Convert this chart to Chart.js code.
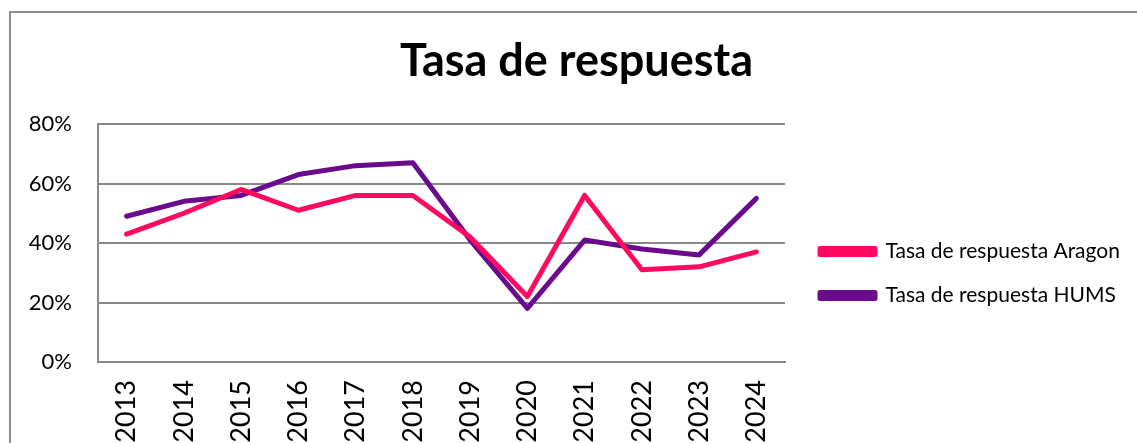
<!DOCTYPE html>
<html lang="es">
<head>
  <meta charset="UTF-8" />
  <title>Tasa de respuesta</title>
  <script src="https://cdn.jsdelivr.net/npm/chart.js"></script>
  <style>
    * { margin: 0; padding: 0; box-sizing: border-box; }
    body { background: #fff; width: 1137px; height: 443px; overflow: hidden; position: relative; }
    .marco {
      position: absolute; left: 9px; top: 11px; width: 1300px; height: 600px;
      border-left: 2px solid #8c8c8c; border-top: 2px solid #8c8c8c;
    }
    #grafico { position: absolute; left: 0; top: 0; }
  </style>
</head>
<body>
  <div class="marco"></div>
  <canvas id="grafico" width="1137" height="443"></canvas>

  <script>
    // Datos
    const anios = ['2013', '2014', '2015', '2016', '2017', '2018', '2019', '2020', '2021', '2022', '2023', '2024'];
    const tasaAragon = [43, 50, 58, 51, 56, 56, 42, 22, 56, 31, 32, 37];
    const tasaHums = [49, 54, 56, 63, 66, 67, 41, 18, 41, 38, 36, 55];
    const ticksY = [0, 20, 40, 60, 80];

    const rosa = '#ff0a60';
    const morado = '#6a0a8c';
    const gris = '#888';

    Chart.defaults.font.family = "Lato, 'Open Sans', sans-serif";
    Chart.defaults.color = '#000';

    // ancho fijo de la leyenda y desplazamiento (abajo y a la derecha), como en el original
    const moverLeyenda = {
      id: 'moverLeyenda',
      beforeLayout(chart) {
        const l = chart.legend;
        if (l && !l._fijo) {
          const fit = l.fit;
          l.fit = function () { fit.call(this); this.width = 342; };
          l._fijo = true;
        }
      },
      afterLayout(chart) {
        const l = chart.legend;
        l.left += 12; l.right += 12;
        l.top += 52; l.bottom += 52;
      }
    };

    const ctx = document.getElementById('grafico').getContext('2d');
    new Chart(ctx, {
      type: 'line',
      data: {
        labels: anios,
        datasets: [
          {
            label: 'Tasa de respuesta Aragon',
            data: tasaAragon,
            borderColor: rosa,
            backgroundColor: rosa,
            borderWidth: 5,
            pointRadius: 0,
            borderJoinStyle: 'round',
            borderCapStyle: 'round'
          },
          {
            label: 'Tasa de respuesta HUMS',
            data: tasaHums,
            borderColor: morado,
            backgroundColor: morado,
            borderWidth: 5,
            pointRadius: 0,
            borderJoinStyle: 'round',
            borderCapStyle: 'round'
          }
        ]
      },
      options: {
        responsive: false,
        animation: false,
        devicePixelRatio: 1,
        layout: { padding: { left: 26, right: 10, top: 0, bottom: 0 } },
        plugins: {
          title: {
            display: true,
            text: 'Tasa de respuesta',
            font: { size: 45, weight: 'bold' },
            color: '#000',
            padding: { top: 34, bottom: 36 }
          },
          legend: {
            position: 'right',
            labels: {
              boxWidth: 55,
              boxHeight: 6,
              padding: 23,
              font: { size: 21 },
              color: '#000'
            }
          },
          tooltip: { enabled: false }
        },
        scales: {
          x: {
            offset: true,
            grid: { display: false, drawTicks: false },
            border: { display: true, color: gris, width: 2 },
            ticks: { minRotation: 90, maxRotation: 90, padding: 18, font: { size: 27 }, color: '#000' },
            afterFit: s => { s.height = 81; }
          },
          y: {
            min: 0,
            max: 80,
            afterBuildTicks: s => { s.ticks = ticksY.map(v => ({ value: v })); },
            grid: { color: gris, lineWidth: 2, drawTicks: false },
            border: { display: true, color: gris, width: 2 },
            ticks: { padding: 26, font: { size: 22 }, color: '#000', callback: v => v + '%' },
            afterFit: s => { s.width = 72; }
          }
        }
      },
      plugins: [moverLeyenda]
    });
  </script>
</body>
</html>
